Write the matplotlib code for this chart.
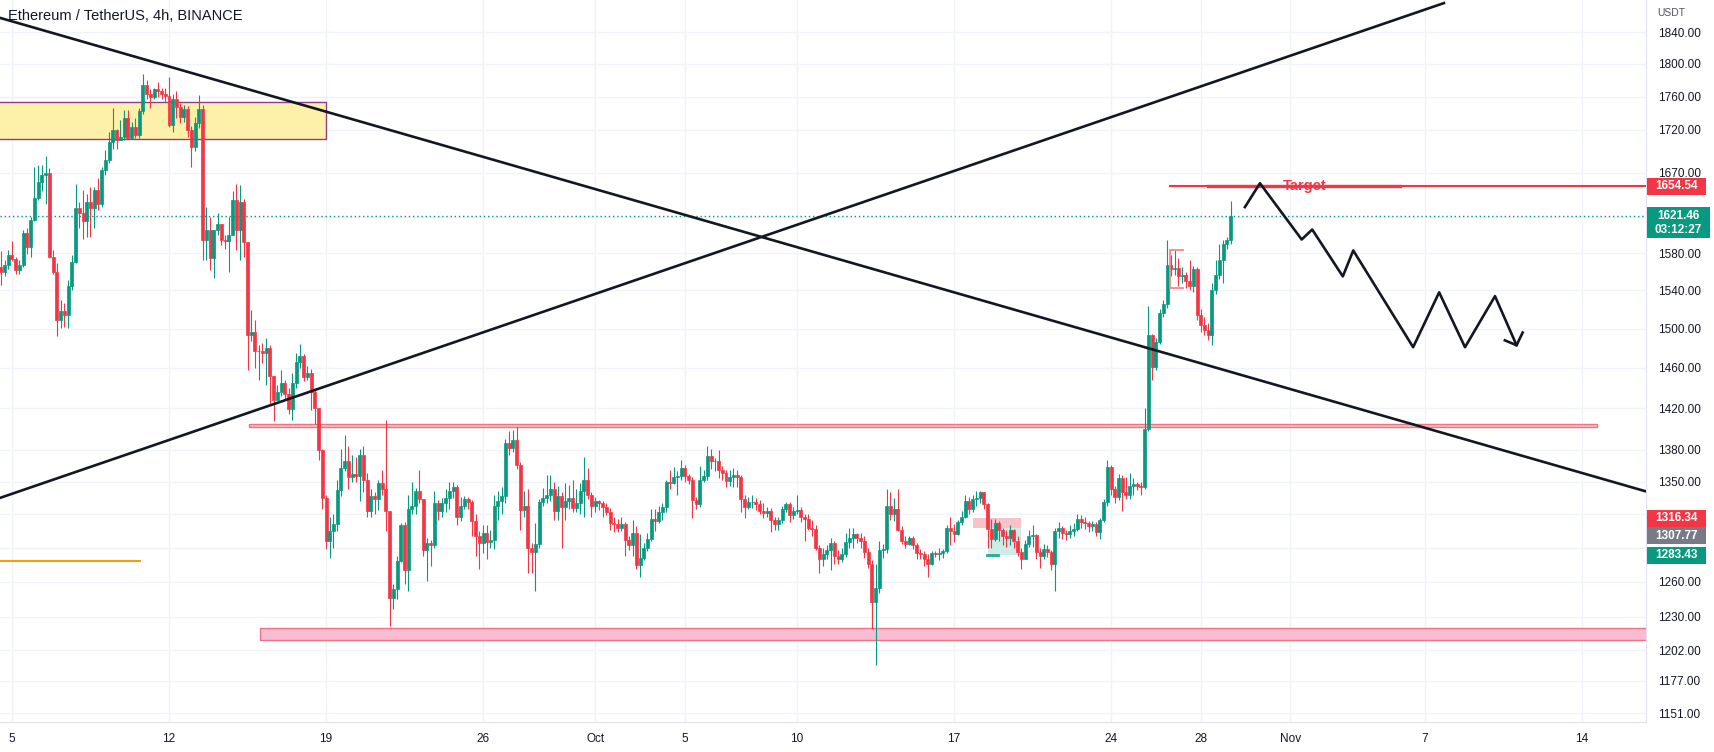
import pandas as pd
import matplotlib
matplotlib.use('Agg')
import matplotlib.pyplot as plt
import matplotlib.dates as mdates
from matplotlib.patches import Rectangle

plt.rcParams['font.family'] = ['Liberation Sans', 'DejaVu Sans']

# ETH/USDT 4h candles, starting 2022-09-04 12:00
first_open = 1565
close = [
    1560, 1567, 1578, 1574, 1562, 1567, 1602, 1587, 1617, 1641,
    1660, 1668, 1670, 1576, 1560, 1509, 1518, 1514, 1545, 1571,
    1630, 1624, 1615, 1637, 1630, 1650, 1635, 1673, 1685, 1706,
    1720, 1708, 1712, 1734, 1711, 1724, 1714, 1742, 1774, 1763,
    1759, 1769, 1767, 1763, 1761, 1726, 1757, 1747, 1735, 1745,
    1720, 1700, 1728, 1745, 1594, 1606, 1575, 1605, 1612, 1594,
    1593, 1600, 1639, 1606, 1637, 1592, 1493, 1497, 1477, 1477,
    1475, 1480, 1452, 1428, 1436, 1445, 1434, 1419, 1445, 1466,
    1472, 1451, 1455, 1436, 1420, 1380, 1335, 1296, 1305, 1311,
    1342, 1363, 1369, 1354, 1357, 1355, 1375, 1352, 1323, 1337,
    1334, 1349, 1343, 1323, 1246, 1254, 1278, 1310, 1270, 1325,
    1328, 1341, 1334, 1288, 1294, 1292, 1330, 1323, 1330, 1335,
    1341, 1345, 1318, 1328, 1334, 1331, 1314, 1300, 1294, 1303,
    1295, 1297, 1328, 1332, 1337, 1386, 1382, 1389, 1366, 1324,
    1328, 1290, 1286, 1293, 1331, 1335, 1338, 1343, 1323, 1337,
    1327, 1332, 1335, 1326, 1330, 1341, 1352, 1338, 1328, 1332,
    1330, 1327, 1322, 1312, 1311, 1308, 1311, 1297, 1292, 1303,
    1275, 1281, 1290, 1298, 1316, 1314, 1322, 1327, 1350, 1349,
    1354, 1355, 1363, 1355, 1352, 1333, 1329, 1352, 1355, 1374,
    1369, 1369, 1361, 1358, 1351, 1354, 1356, 1354, 1334, 1327,
    1331, 1331, 1329, 1323, 1321, 1323, 1315, 1311, 1315, 1325,
    1329, 1319, 1323, 1324, 1318, 1316, 1308, 1307, 1290, 1280,
    1284, 1288, 1294, 1283, 1280, 1284, 1295, 1299, 1302, 1299,
    1296, 1286, 1276, 1243, 1255, 1288, 1289, 1328, 1320, 1325,
    1306, 1296, 1293, 1299, 1292, 1285, 1284, 1280, 1276, 1285,
    1284, 1285, 1287, 1308, 1305, 1302, 1313, 1318, 1332, 1325,
    1334, 1335, 1340, 1329, 1307, 1298, 1312, 1306, 1300, 1299,
    1306, 1296, 1286, 1280, 1293, 1300, 1301, 1286, 1283, 1289,
    1286, 1276, 1305, 1308, 1303, 1302, 1305, 1307, 1316, 1313,
    1312, 1309, 1311, 1304, 1315, 1331, 1364, 1343, 1336, 1353,
    1340, 1338, 1346, 1348, 1346, 1345, 1400, 1493, 1461, 1486,
    1516, 1526, 1567, 1563, 1564, 1555, 1557, 1550, 1545, 1563,
    1514, 1504, 1499, 1493, 1540, 1557, 1573, 1590, 1594, 1621.46,
]
high = [
    1582, 1573, 1583, 1593, 1576, 1573, 1606, 1608, 1620, 1677,
    1679, 1679, 1689, 1675, 1583, 1569, 1530, 1527, 1551, 1578,
    1657, 1637, 1650, 1646, 1654, 1654, 1664, 1677, 1696, 1718,
    1746, 1721, 1732, 1744, 1744, 1729, 1734, 1746, 1788, 1780,
    1769, 1771, 1778, 1771, 1771, 1784, 1763, 1767, 1752, 1750,
    1748, 1725, 1735, 1762, 1750, 1631, 1620, 1606, 1624, 1612,
    1600, 1620, 1649, 1657, 1656, 1640, 1592, 1519, 1509, 1483,
    1485, 1490, 1483, 1452, 1443, 1458, 1448, 1440, 1455, 1475,
    1484, 1474, 1462, 1459, 1440, 1420, 1381, 1338, 1318, 1320,
    1352, 1381, 1394, 1384, 1375, 1373, 1381, 1384, 1358, 1343,
    1340, 1352, 1361, 1409, 1323, 1258, 1283, 1312, 1313, 1338,
    1350, 1344, 1361, 1334, 1299, 1297, 1341, 1333, 1335, 1343,
    1350, 1350, 1347, 1336, 1337, 1336, 1333, 1320, 1305, 1310,
    1310, 1306, 1338, 1341, 1345, 1390, 1398, 1399, 1402, 1368,
    1341, 1343, 1294, 1312, 1334, 1344, 1356, 1356, 1350, 1346,
    1340, 1349, 1347, 1352, 1343, 1349, 1373, 1363, 1340, 1336,
    1333, 1332, 1330, 1326, 1318, 1316, 1318, 1313, 1300, 1315,
    1309, 1302, 1294, 1303, 1325, 1325, 1328, 1330, 1352, 1361,
    1364, 1360, 1370, 1366, 1357, 1354, 1336, 1365, 1361, 1384,
    1381, 1372, 1380, 1365, 1361, 1361, 1363, 1361, 1356, 1338,
    1336, 1338, 1335, 1333, 1330, 1327, 1326, 1318, 1318, 1328,
    1331, 1331, 1327, 1338, 1327, 1320, 1320, 1315, 1310, 1292,
    1290, 1292, 1299, 1296, 1288, 1290, 1303, 1308, 1308, 1303,
    1303, 1300, 1290, 1279, 1276, 1296, 1293, 1343, 1340, 1335,
    1343, 1309, 1300, 1300, 1300, 1294, 1289, 1287, 1284, 1287,
    1287, 1290, 1289, 1310, 1318, 1311, 1315, 1323, 1338, 1336,
    1338, 1341, 1341, 1340, 1330, 1316, 1316, 1314, 1308, 1306,
    1310, 1307, 1300, 1290, 1297, 1306, 1310, 1302, 1290, 1293,
    1292, 1288, 1308, 1313, 1309, 1306, 1310, 1312, 1320, 1319,
    1318, 1314, 1314, 1313, 1317, 1334, 1370, 1366, 1346, 1357,
    1356, 1354, 1358, 1353, 1350, 1350, 1420, 1524, 1495, 1490,
    1520, 1530, 1595, 1578, 1583, 1575, 1565, 1560, 1573, 1566,
    1565, 1520, 1512, 1506, 1548, 1573, 1590, 1594, 1598, 1638,
]
low = [
    1546, 1555, 1563, 1572, 1558, 1558, 1565, 1579, 1576, 1615,
    1639, 1649, 1635, 1575, 1558, 1492, 1501, 1502, 1501, 1541,
    1569, 1608, 1596, 1598, 1598, 1608, 1628, 1631, 1668, 1681,
    1698, 1698, 1708, 1708, 1710, 1710, 1711, 1710, 1739, 1757,
    1746, 1757, 1759, 1757, 1753, 1724, 1718, 1734, 1728, 1730,
    1712, 1677, 1695, 1722, 1573, 1573, 1562, 1553, 1600, 1589,
    1585, 1560, 1600, 1583, 1573, 1576, 1458, 1487, 1460, 1448,
    1465, 1443, 1424, 1408, 1428, 1432, 1428, 1414, 1409, 1440,
    1460, 1447, 1448, 1418, 1405, 1370, 1325, 1289, 1281, 1290,
    1305, 1337, 1360, 1343, 1350, 1350, 1332, 1340, 1318, 1318,
    1320, 1324, 1338, 1305, 1222, 1237, 1245, 1277, 1258, 1252,
    1320, 1320, 1330, 1283, 1261, 1274, 1290, 1315, 1318, 1322,
    1325, 1335, 1310, 1314, 1325, 1325, 1300, 1283, 1271, 1285,
    1280, 1290, 1289, 1315, 1320, 1330, 1375, 1378, 1362, 1306,
    1318, 1268, 1268, 1252, 1290, 1328, 1330, 1332, 1315, 1315,
    1290, 1315, 1325, 1322, 1322, 1320, 1318, 1334, 1318, 1322,
    1324, 1318, 1319, 1306, 1304, 1304, 1305, 1283, 1288, 1283,
    1271, 1264, 1279, 1287, 1296, 1305, 1312, 1315, 1322, 1343,
    1348, 1338, 1352, 1350, 1348, 1317, 1325, 1327, 1350, 1352,
    1362, 1360, 1353, 1352, 1345, 1346, 1345, 1345, 1322, 1317,
    1325, 1326, 1324, 1320, 1317, 1318, 1304, 1306, 1306, 1312,
    1322, 1313, 1316, 1320, 1313, 1296, 1306, 1300, 1288, 1268,
    1274, 1280, 1270, 1276, 1276, 1277, 1282, 1290, 1290, 1294,
    1290, 1281, 1272, 1220, 1190, 1250, 1281, 1285, 1315, 1314,
    1305, 1293, 1290, 1292, 1289, 1280, 1280, 1274, 1264, 1275,
    1282, 1279, 1281, 1285, 1292, 1295, 1301, 1310, 1317, 1320,
    1322, 1328, 1330, 1325, 1290, 1290, 1296, 1296, 1292, 1291,
    1292, 1290, 1283, 1271, 1281, 1291, 1291, 1280, 1272, 1280,
    1282, 1270, 1252, 1299, 1298, 1297, 1299, 1300, 1305, 1308,
    1307, 1304, 1305, 1300, 1298, 1313, 1328, 1338, 1330, 1333,
    1323, 1334, 1334, 1338, 1342, 1338, 1343, 1398, 1448, 1458,
    1484, 1512, 1522, 1555, 1556, 1545, 1548, 1543, 1540, 1538,
    1509, 1497, 1493, 1488, 1483, 1536, 1552, 1548, 1585, 1590,
]

# axis ticks (labelled ones, and those hidden behind price labels)
price_ticks = [1840, 1800, 1760, 1720, 1670, 1580, 1540, 1500, 1460,
               1420, 1380, 1350, 1260, 1230, 1202, 1177, 1151]
hidden_ticks = [1620, 1320, 1290]
date_ticks = ['2022-09-05', '2022-09-12', '2022-09-19', '2022-09-26', '2022-10-01',
              '2022-10-05', '2022-10-10', '2022-10-17', '2022-10-24', '2022-10-28',
              '2022-11-01', '2022-11-07', '2022-11-14']
date_labels = ['5', '12', '19', '26', 'Oct', '5', '10', '17', '24', '28', 'Nov', '7', '14']

# drawings
trend_down = [('2022-09-04 11:10', 1858), ('2022-11-16 20:25', 1341)]
trend_up = [('2022-09-04 11:10', 1335), ('2022-11-07 20:10', 1877)]
supply_zone = ('2022-09-03', '2022-09-19 00:00', 1709, 1753)
resistance_zone = ('2022-09-15 13:40', '2022-11-14 15:50', 1401.4, 1404.6)
support_zone = ('2022-09-16 01:25', '2022-11-25', 1210.5, 1220.3)
orange_level = ('2022-09-03', '2022-09-10 17:00', 1278.3)
target_price = 1654.54
target_start = '2022-10-26 15:00'
target_bold = ('2022-10-28 07:40', '2022-11-05 21:10')
target_label_time = '2022-11-01 15:30'
bracket = ('2022-10-26 15:00', '2022-10-27 04:40', 1543, 1583)
short_entry, short_stop, short_target = 1307.77, 1316.34, 1283.43
short_span = ('2022-10-17 20:10', '2022-10-18 12:15', '2022-10-19 23:30')
zigzag_time = ['2022-10-29 23:15', '2022-10-30 15:20', '2022-11-01 12:00', '2022-11-01 23:15',
               '2022-11-03 08:00', '2022-11-03 19:10', '2022-11-06 11:15', '2022-11-07 15:05',
               '2022-11-08 18:45', '2022-11-10 02:50', '2022-11-11 01:55']
zigzag_price = [1631, 1658, 1595, 1606, 1555, 1583, 1481, 1538, 1481, 1534, 1483]
arrow_time = ['2022-11-10 13:25', '2022-11-11 01:55', '2022-11-11 08:25']
arrow_price = [1488, 1483, 1496]
last_price = 1621.46
countdown = '03:12:27'

UP, DOWN = '#089981', '#f23645'
W, H = 1715, 752


def t(s):
    return mdates.date2num(pd.Timestamp(s))


times = pd.date_range('2022-09-04 12:00', periods=len(close), freq='4h')
x = mdates.date2num(times)
opens = [first_open] + close[:-1]
colors = [UP if c >= o else DOWN for o, c in zip(opens, close)]

fig = plt.figure(figsize=(W / 100, H / 100), dpi=100)
ax = fig.add_axes([0, 30 / H, 1646 / W, 722 / H])
ax.set_yscale('log')
ax.set_ylim(1144.1, 1881)
ax.set_xlim(t('2022-09-04 11:10'), t('2022-11-16 20:25'))

# zones under candles
x0, x1, lo, hi = supply_zone
ax.add_patch(Rectangle((t(x0), lo), t(x1) - t(x0), hi - lo, fc='#fdf0a8', ec='#8e3b8e', lw=1, zorder=1))
x0, x1, lo, hi = resistance_zone
ax.add_patch(Rectangle((t(x0), lo), t(x1) - t(x0), hi - lo, fc='#f8c4c9', ec='#f07480', lw=1, zorder=1))
x0, x1, lo, hi = support_zone
ax.add_patch(Rectangle((t(x0), lo), t(x1) - t(x0), hi - lo, fc='#f8bdd0', ec='#ef7385', lw=1, zorder=1))
x0, x1, lvl = orange_level
ax.plot([t(x0), t(x1)], [lvl, lvl], color='#ff9800', lw=1.4, zorder=1)

# short position tool
sa, sb, sc = short_span
ax.add_patch(Rectangle((t(sa), short_entry), t(sc) - t(sa), short_stop - short_entry,
                       fc='#f7c3c8', ec='none', zorder=1))
ax.add_patch(Rectangle((t(sb), short_target), t(sc) - t(sb), short_entry - short_target,
                       fc='#cdece6', ec='none', zorder=1))
ax.plot([t(sb) - 0.04, t(sb) + 0.45], [short_target, short_target], color='#22ab94', lw=2, zorder=2)

# candles
ax.vlines(x, low, high, colors=colors, lw=0.8, zorder=3)
bottoms = [min(o, c) for o, c in zip(opens, close)]
heights = [abs(c - o) for o, c in zip(opens, close)]
ax.bar(x, heights, bottom=bottoms, width=0.8 / 6, color=colors, edgecolor=colors, lw=0.5, zorder=3)

# trend lines
for line in (trend_down, trend_up):
    ax.plot([t(p[0]) for p in line], [p[1] for p in line], color='#131722', lw=1.9, zorder=4)

# target
ax.plot([t(target_start), t('2022-11-25')], [target_price] * 2, color=DOWN, lw=1.5, zorder=4)
ax.plot([t(target_bold[0]), t(target_bold[1])], [target_price] * 2, color=DOWN, lw=2.4, zorder=4)
ax.text(t(target_label_time), target_price, 'Target', color=DOWN, fontsize=10.5,
        fontweight='bold', ha='center', va='center', zorder=5)
b0, b1, blo, bhi = bracket
ax.plot([t(b1), t(b0), t(b0), t(b1)], [bhi, bhi, blo, blo], color='#f5868d', lw=1.3, zorder=4)

# projected path
ax.plot([t(s) for s in zigzag_time], zigzag_price, color='#131722', lw=1.9, zorder=4)
ax.plot([t(s) for s in arrow_time], arrow_price, color='#131722', lw=1.9, zorder=4)

# current price line
ax.axhline(last_price, color=UP, lw=1, ls=(0, (1, 2)), zorder=2)

# axes styling
ax.yaxis.tick_right()
ax.set_yticks(price_ticks)
ax.set_yticklabels([f'{v:.2f}' for v in price_ticks])
ax.set_yticks(hidden_ticks, minor=True)
ax.set_yticklabels([''] * len(hidden_ticks), minor=True)
ax.set_xticks([t(d) for d in date_ticks])
ax.set_xticklabels(date_labels)
ax.tick_params(axis='y', which='both', length=0, pad=9, labelsize=8.5, labelcolor='#131722')
ax.tick_params(axis='x', length=0, pad=8, labelsize=8.5, labelcolor='#131722')
ax.grid(True, which='both', color='#f0f3fa', lw=1, zorder=0)
ax.set_axisbelow(True)
for side in ('top', 'left'):
    ax.spines[side].set_visible(False)
for side in ('right', 'bottom'):
    ax.spines[side].set_color('#e0e3eb')

fig.text(8 / W, 1 - 16 / H, 'Ethereum / TetherUS, 4h, BINANCE', fontsize=10.5, color='#131722', va='center')

# price scale labels
ov = fig.add_axes([0, 0, 1, 1], zorder=10)
ov.set_xlim(0, W)
ov.set_ylim(0, H)
ov.axis('off')
xref = ax.get_xlim()[0]


def py(p):
    return ax.transData.transform((xref, p))[1]


ov.text(1657, H - 13, 'USDT', fontsize=7.5, color='#50535e', va='center')


def price_box(y, txt, color, width=59):
    ov.add_patch(Rectangle((1647, y - 8.5), width, 17, fc=color, ec='none'))
    ov.text(1647 + width / 2, y, txt, color='white', fontsize=8.5, fontweight='bold', ha='center', va='center')


price_box(py(target_price), f'{target_price:.2f}', DOWN)

yl = py(last_price)
ov.add_patch(Rectangle((1647, yl - 22.5), 63, 31, fc=UP, ec='none'))
ov.text(1678.5, yl, f'{last_price:.2f}', color='white', fontsize=8.5, fontweight='bold', ha='center', va='center')
ov.text(1678.5, yl - 14.5, countdown, color='white', fontsize=8.5, fontweight='bold', ha='center', va='center')

# stacked labels of the position tool
prev = None
for p, col in [(short_stop, DOWN), (short_entry, '#787b86'), (short_target, UP)]:
    y = py(p)
    if prev is not None and prev - y < 17.5:
        y = prev - 17.5
    price_box(y, f'{p:.2f}', col)
    prev = y

fig.savefig('out.png', dpi=100)
